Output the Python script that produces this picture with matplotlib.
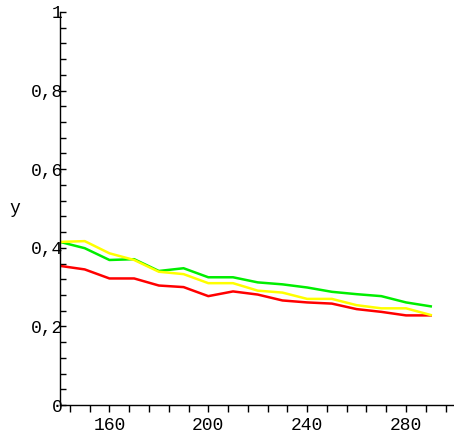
import matplotlib.pyplot as plt
import numpy as np
from matplotlib.ticker import MultipleLocator, FuncFormatter

x = [140, 150, 160, 170, 180, 190, 200, 210, 220, 230, 240, 250, 260, 270, 280, 290]
green = [0.415, 0.399, 0.369, 0.371, 0.341, 0.348, 0.325, 0.325, 0.312, 0.307,
         0.299, 0.288, 0.282, 0.277, 0.261, 0.251]
yellow = [0.415, 0.417, 0.386, 0.369, 0.339, 0.333, 0.310, 0.310, 0.291, 0.286,
          0.270, 0.270, 0.254, 0.246, 0.246, 0.229]
red = [0.354, 0.345, 0.322, 0.322, 0.304, 0.300, 0.277, 0.289, 0.281, 0.266,
       0.261, 0.258, 0.244, 0.237, 0.228, 0.228]

plt.rcParams['font.family'] = 'Liberation Mono'

fig = plt.figure(figsize=(4.54, 4.38), dpi=100)
ax = fig.add_axes([60 / 454, 33 / 438, 393 / 454, 393 / 438])

ax.plot(x, red, color='#ff0000', lw=1.8)
ax.plot(x, green, color='#00ee00', lw=1.8)
ax.plot(x, yellow, color='#ffff00', lw=1.8)

ax.set_xlim(140, 299)
ax.set_ylim(0, 1)

for s in ['top', 'right']:
    ax.spines[s].set_visible(False)
for s in ['left', 'bottom']:
    ax.spines[s].set_linewidth(1.0)

ax.xaxis.set_major_locator(MultipleLocator(40))
ax.xaxis.set_minor_locator(MultipleLocator(8))
ax.yaxis.set_major_locator(MultipleLocator(0.2))
ax.yaxis.set_minor_locator(MultipleLocator(0.04))

def yfmt(v, pos):
    if abs(v) < 1e-9:
        return '0'
    if abs(v - 1) < 1e-9:
        return '1'
    return f'{v:.1f}'.replace('.', ',')

ax.yaxis.set_major_formatter(FuncFormatter(yfmt))
ax.xaxis.set_major_formatter(FuncFormatter(lambda v, p: f'{v:.0f}' if v > 140 else ''))

ax.tick_params(axis='x', which='both', direction='out', length=5, width=1,
               labelsize=13, pad=4)
ax.tick_params(axis='y', which='both', direction='in', length=4, width=1,
               labelsize=13, pad=-2)

ax.set_ylabel('y', rotation=0, fontsize=13, va='center')
ax.yaxis.set_label_coords(-45 / 393, 0.5)

fig.savefig('out.png', dpi=100)
